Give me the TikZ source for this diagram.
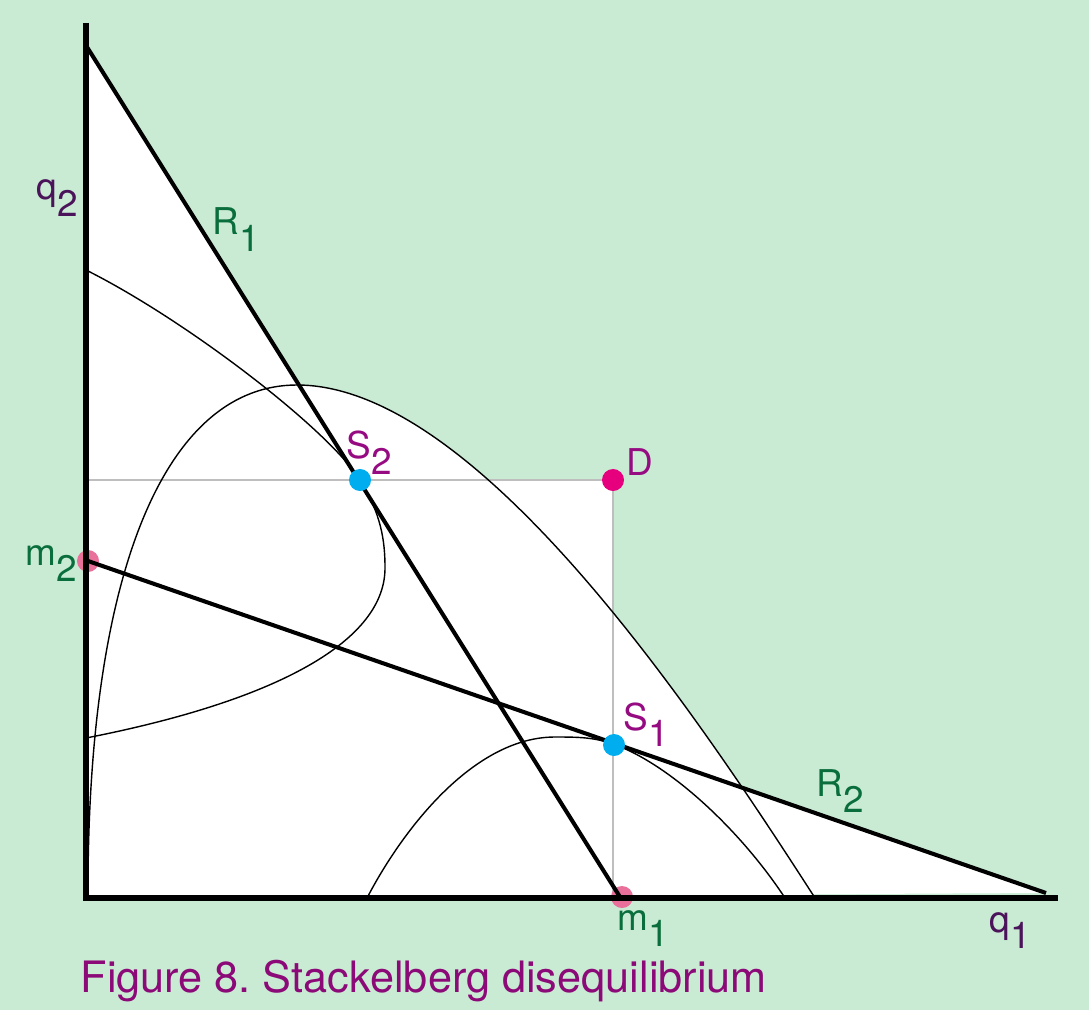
\documentclass[tikz,border=0pt]{standalone}
\usepackage{fontspec}
\setmainfont{TeX Gyre Heros}
\definecolor{bggreen}{RGB}{201,235,212}
\definecolor{guidegray}{RGB}{190,190,190}
\definecolor{dotcyan}{RGB}{0,174,239}
\definecolor{dotmagenta}{RGB}{230,0,126}
\definecolor{dotpink}{RGB}{232,112,155}
\definecolor{labpurple}{RGB}{75,20,90}
\definecolor{labgreen}{RGB}{10,110,60}
\definecolor{labmagenta}{RGB}{150,10,130}
\definecolor{capmagenta}{RGB}{140,10,120}
\newcommand{\idx}[2]{#1\raisebox{-0.45em}{#2}}

\begin{document}
\frenchspacing
\begin{tikzpicture}[x=0.01cm,y=-0.01cm,
  axis/.style={line width=1.45pt},
  react/.style={line width=1.15pt},
  iso/.style={line width=0.4pt},
  guide/.style={line width=0.3pt,draw=guidegray},
  dot/.style={circle,inner sep=0pt,minimum size=0.22cm},
  lab/.style={anchor=base west,inner sep=0pt,font=\fontsize{10.5}{12}\selectfont}]
  \useasboundingbox (0,0) rectangle (1089,1010);
  \fill[bggreen] (0,0) rectangle (1089,1010);
  % axes and reaction lines
  \coordinate (O) at (86,898);
  \coordinate (Q2) at (86,23);
  \coordinate (Q1) at (1058,898);
  \coordinate (R1a) at (87,47);
  \coordinate (M1) at (620,897);
  \coordinate (M2) at (88,561);
  \coordinate (R2b) at (1046,893);
  \coordinate (G) at (86,480);
  \coordinate (F) at (613,898);
  \coordinate (S2) at (360,480);
  \coordinate (D) at (613,480);
  \coordinate (S1) at (613,744);
  % white region
  \fill[white] (O) -- (R1a) -- (M1) -- cycle;
  \fill[white] (O) -- (M2) -- (R2b) -- cycle;
  \fill[white] (G) -- (D) -- (F) -- (O) -- cycle;
  \fill[white] (88,880) .. controls (90,560) and (170,385) .. (297,385)
    .. controls (477,385) and (696,713) .. (815,898) -- (O) -- cycle;
  % guides
  \draw[guide] (G) -- (D) -- (F);
  % isoprofit curves
  \draw[iso] (88,880) .. controls (90,560) and (170,385) .. (297,385)
    .. controls (477,385) and (696,713) .. (815,898);
  \draw[iso] (86,270) .. controls (186,320) and (328,429) .. (S2)
    .. controls (381,514) and (385,540) .. (385,568)
    .. controls (385,640) and (280,700) .. (86,738);
  \draw[iso] (367,898) .. controls (404,827) and (475,737) .. (555,737)
    .. controls (580,737) and (594,737.4) .. (S1)
    .. controls (670,764) and (741,831) .. (785,898);
  % intercepts
  \node[dot,fill=dotpink] (m2) at (M2) {};
  \node[dot,fill=dotpink] (m1) at (622,897) {};
  \draw[axis] (Q2) -- (O) -- (Q1);
  \draw[react] (R1a) -- (M1);
  \draw[react] (M2) -- (R2b);
  % equilibria
  \node[dot,fill=dotcyan] (s2) at (S2) {};
  \node[dot,fill=dotmagenta] (d) at (D) {};
  \node[dot,fill=dotcyan] (s1) at (614,745) {};
  % labels
  \node[lab,text=labpurple] (q2lab) at (36,200) {\idx{q}{2}};
  \node[lab,text=labgreen] (r1lab) at (212,235) {\idx{R}{1}};
  \node[lab,text=labmagenta] (s2lab) at (346,458) {\idx{S}{2}};
  \node[lab,text=labmagenta] (dlab) at (626,475) {D};
  \node[lab,text=labgreen] (m2lab) at (25,565) {\idx{m}{2}};
  \node[lab,text=labmagenta] (s1lab) at (623,730) {\idx{S}{1}};
  \node[lab,text=labgreen] (r2lab) at (816,796) {\idx{R}{2}};
  \node[lab,text=labgreen] (m1lab) at (617,930) {\idx{m}{1}};
  \node[lab,text=labpurple] (q1lab) at (989,932) {\idx{q}{1}};
  \node[anchor=base west,inner sep=0pt,text=capmagenta,font=\fontsize{12.3}{14}\selectfont]
    (cap) at (80,992) {Figure 8. Stackelberg disequilibrium};
\end{tikzpicture}
\end{document}
